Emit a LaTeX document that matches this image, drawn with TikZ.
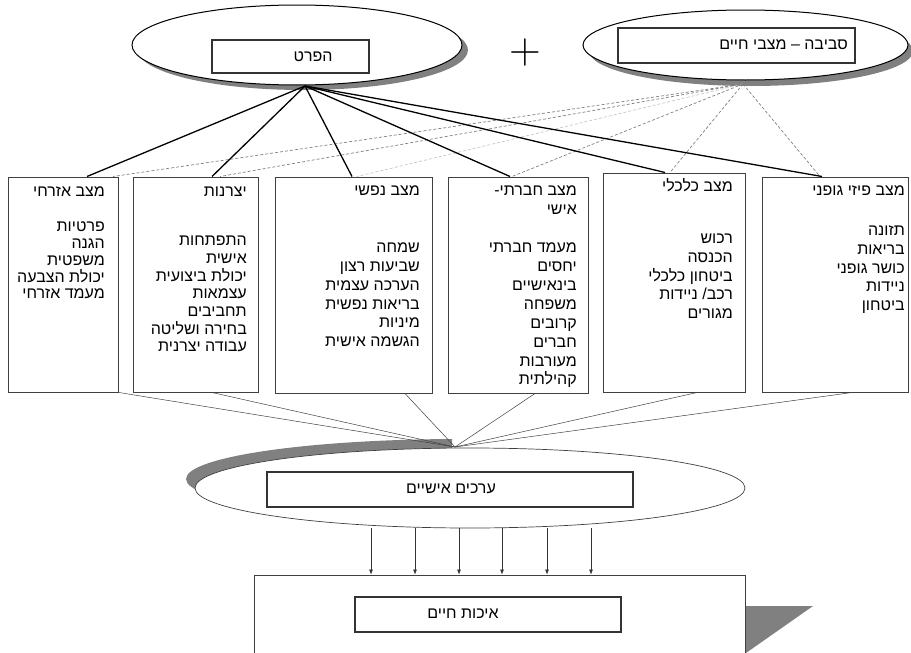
\documentclass[tikz,border=0pt]{standalone}
\usepackage{fontspec}
\usetikzlibrary{shapes.geometric,arrows.meta}
\newfontfamily\hebfont[Script=Hebrew]{Liberation Sans}
\TeXXeTstate=1
\newcommand{\heb}[1]{\beginR #1\endR}
\begin{document}
\begin{tikzpicture}[x=1pt,y=-1pt,
  colbox/.style={draw=black!75, line width=1pt, rectangle, inner sep=0pt},
  innerbox/.style={draw=black!80, line width=1.1pt, rectangle, inner sep=0pt},
  lbl/.style={inner sep=0pt, font=\hebfont\fontsize{16}{18}\selectfont},
  coltxt/.style={lbl, anchor=mid east, yshift=-1.5pt},
  topell/.style={ellipse, draw=black, line width=1pt, fill=white, inner sep=0pt},
  indiv/.style={draw=black, line width=1.3pt},
  envl/.style={densely dashed, line width=0.7pt},
  vals/.style={draw=black!75, line width=0.5pt},
  arr/.style={draw=black!80, line width=0.5pt, -{Latex[length=5pt,width=4pt]}}]
\useasboundingbox (0,0) rectangle (911,653);

% ---- top ellipses ----
\fill[gray] (303,50) ellipse [x radius=165, y radius=40];
\node[topell, minimum width=330, minimum height=80] (e1) at (297,45) {};
\node[innerbox, minimum width=157, minimum height=33] (r1) at (290.5,56.5) {};
\node[lbl] (t1) at (313,57) {\heb{הפרט}};

\node[inner sep=0pt] (plus) at (525,53) {\fontsize{44}{44}\selectfont +};

\fill[gray] (751,51) ellipse [x radius=162, y radius=35];
\node[topell, minimum width=325, minimum height=70] (e2) at (745.5,45) {};
\node[innerbox, minimum width=237, minimum height=35] (r2) at (736.5,45.5) {};
\node[coltxt] (t2) at (848,46) {\heb{סביבה – מצבי חיים}};

\coordinate (p1) at (305,86);
\coordinate (p2) at (743,84);

% ---- column boxes ----
\node[colbox, minimum width=110, minimum height=215] (b1) at (63,284.5) {};
\node[colbox, minimum width=125, minimum height=215] (b2) at (195.5,284.5) {};
\node[colbox, minimum width=157, minimum height=216] (b3) at (353.5,285) {};
\node[colbox, minimum width=140, minimum height=216] (b4) at (518,285) {};
\node[colbox, minimum width=142, minimum height=219] (b5) at (674,282.5) {};
\node[colbox, minimum width=146, minimum height=215] (b6) at (835,284.5) {};

% ---- connectors from the individual and the environment ----
\foreach \b/\x/\c in {b1/113/gray, b2/220/gray, b3/357/gray!45, b4/512/gray, b5/670/gray, b6/820/gray}
  \draw[envl, draw=\c] (p2) -- (\b.north -| \x,0);
\foreach \b/\x in {b1/87, b2/212, b3/352, b4/510, b5/665, b6/822}
  \draw[indiv] (p1) -- (\b.north -| \x,0);

% ---- column texts ----
\node[coltxt] (b1t) at (105,193) {\heb{מצב אזרחי}};
\foreach \t [count=\i] in {פרטיות,הגנה,משפטית,יכולת הצבעה,מעמד אזרחי}
  \node[coltxt] (b1i\i) at (105,{228+(\i-1)*16.8}) {\heb{\t}};

\node[coltxt] (b2t) at (247,193) {\heb{יצרנות}};
\foreach \t [count=\i] in {התפתחות,אישית,יכולת ביצועית,עצמאות,תחביבים,בחירה ושליטה,עבודה יצרנית}
  \node[coltxt] (b2i\i) at (247,{242+(\i-1)*17.7}) {\heb{\t}};

\node[coltxt] (b3t) at (420,192) {\heb{מצב נפשי}};
\foreach \t [count=\i] in {שמחה,שביעות רצון,הערכה עצמית,בריאות נפשית,מיניות,הגשמה אישית}
  \node[coltxt] (b3i\i) at (420,{249+(\i-1)*18.8}) {\heb{\t}};

\node[coltxt] (b4t) at (577,192) {\heb{מצב חברתי-}};
\node[coltxt] (b4u) at (577,211) {\heb{אישי}};
\foreach \t [count=\i] in {מעמד חברתי,יחסים,בינאישיים,משפחה,קרובים,חברים,מעורבות,קהילתית}
  \node[coltxt] (b4i\i) at (577,{249+(\i-1)*18.9}) {\heb{\t}};

\node[coltxt] (b5t) at (733,188) {\heb{מצב כלכלי}};
\foreach \t [count=\i] in {רכוש,הכנסה,ביטחון כלכלי,רכב/ ניידות,מגורים}
  \node[coltxt] (b5i\i) at (733,{240+(\i-1)*18.75}) {\heb{\t}};

\node[coltxt] (b6t) at (905,192) {\heb{מצב פיזי גופני}};
\foreach \t [count=\i] in {תזונה,בריאות,כושר גופני,ניידות,ביטחון}
  \node[coltxt] (b6i\i) at (905,{232+(\i-1)*18.75}) {\heb{\t}};

% ---- personal values ----
\coordinate (p3) at (455,447);
\begin{scope}
  \clip (0,400) rectangle (452,560);
  \fill[gray] (461,479) ellipse [x radius=275, y radius=40];
\end{scope}
\node[ellipse, draw=black!75, line width=0.7pt, fill=white, inner sep=0pt,
      minimum width=550, minimum height=80] (e3) at (470,488) {};
\foreach \b/\x in {b1/119, b2/212, b3/405, b4/535, b5/697, b6/852}
  \draw[vals] (\b.south -| \x,0) -- (p3);
\node[innerbox, minimum width=366, minimum height=35] (r3) at (450,489.5) {};
\node[lbl] (t3) at (451,489) {\heb{ערכים אישיים}};

% ---- quality of life ----
\begin{scope}
  \clip (0,0) rectangle (911,653);
  \fill[gray] (746,606) -- (813,606) -- (746,653) -- cycle;
  \node[colbox, minimum width=491, minimum height=145] (bq) at (499.5,647.5) {};
\end{scope}
\node[innerbox, minimum width=266, minimum height=35] (r4) at (488,614.5) {};
\node[lbl] (t4) at (463,614) {\heb{איכות חיים}};

\foreach \x in {371,415,459,502,547,591}
  \draw[arr] (e3.south -| \x,0) -- (bq.north -| \x,0);
\end{tikzpicture}
\end{document}
